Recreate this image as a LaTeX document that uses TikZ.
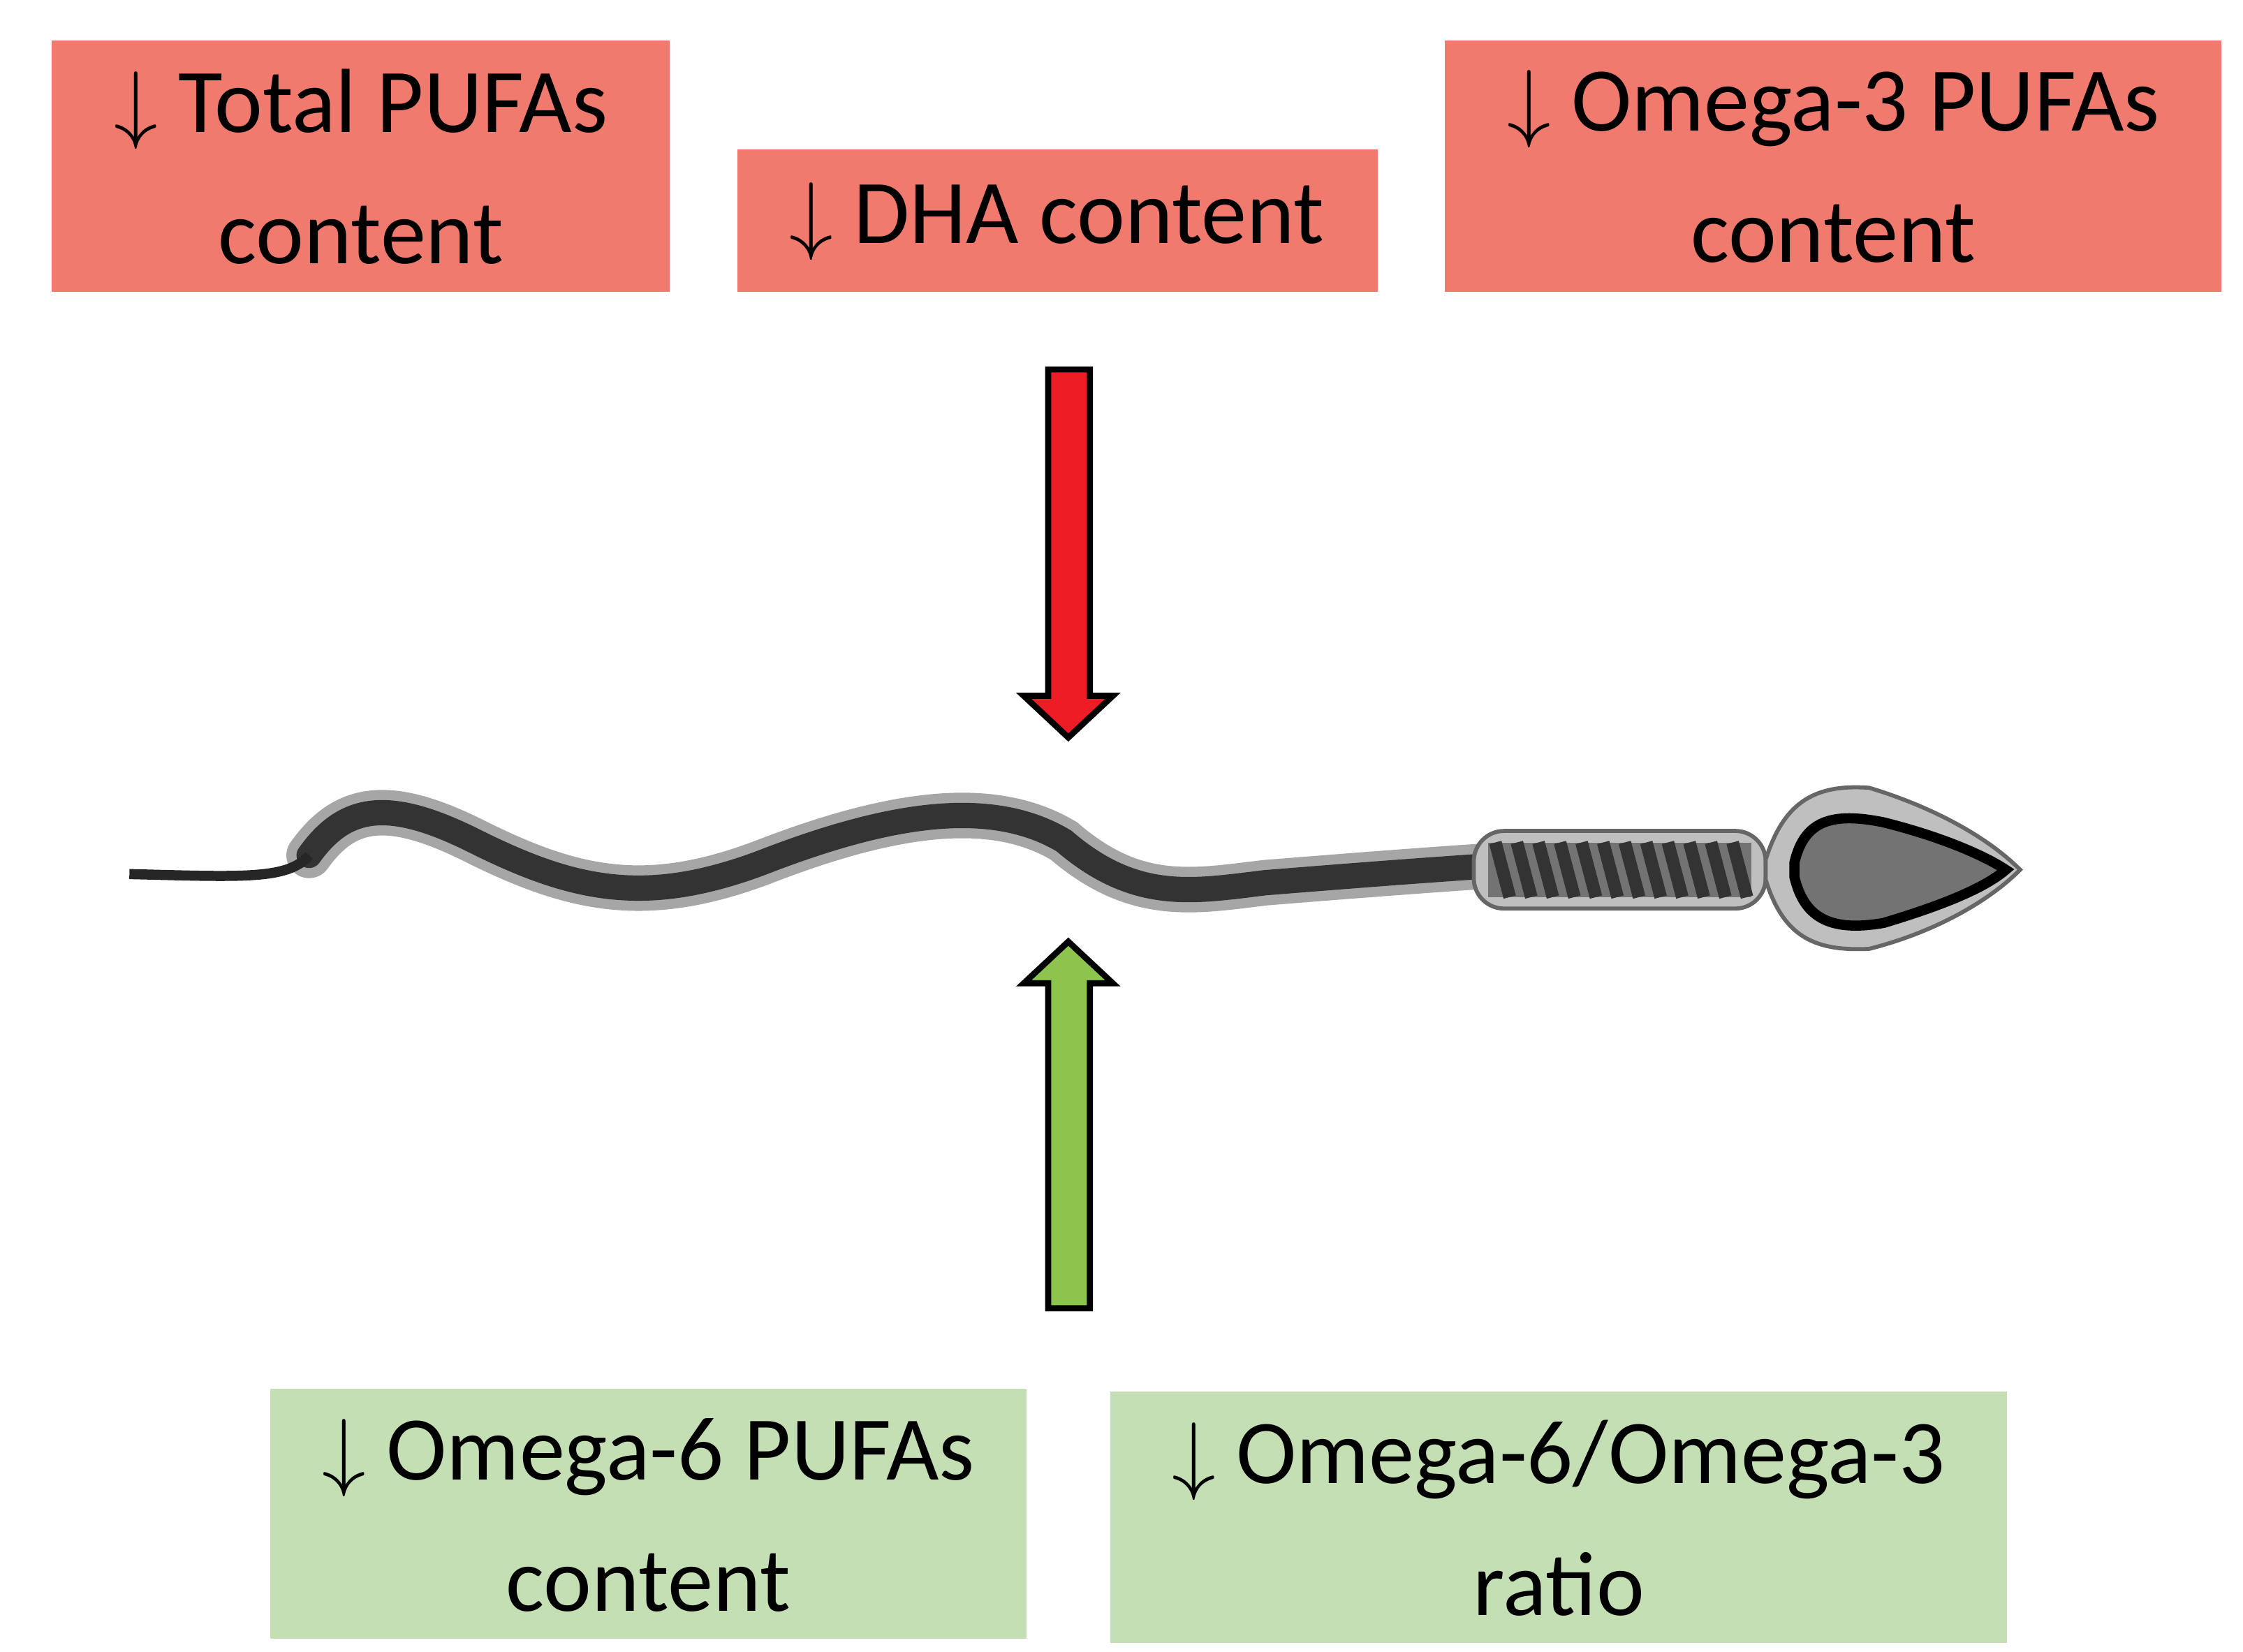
\documentclass[tikz,border=0pt]{standalone}
\usepackage{fontspec}
\setmainfont{Carlito}
\definecolor{boxred}{HTML}{F07A6E}
\definecolor{boxgreen}{HTML}{C5DFB4}
\definecolor{arrred}{HTML}{EE1C25}
\definecolor{arrgreen}{HTML}{8DC44E}
\begin{document}
\begin{tikzpicture}[x=0.01cm,y=-0.01cm,
    box/.style={inner sep=0pt,align=center,font=\fontsize{18}{26}\selectfont},
    bigarrow/.style={draw=black,line width=1.2pt,line join=miter}]
  \useasboundingbox (0,0) rectangle (1560,1149);

  % boxes
  \fill[boxred] (36,28) rectangle (466,203);
  \node[box] (total) at (251,116) {$\downarrow$ Total PUFAs\\content};
  \fill[boxred] (513,104) rectangle (958,203);
  \node[box] (dha) at (735,154) {$\downarrow$ DHA content};
  \fill[boxred] (1005,28) rectangle (1545,203);
  \node[box] (omegathree) at (1275,116) {$\downarrow$ Omega-3 PUFAs\\content};
  \fill[boxgreen] (188,966) rectangle (714,1140);
  \node[box] (omegasix) at (451,1054) {$\downarrow$ Omega-6 PUFAs\\content};
  \fill[boxgreen] (772,968) rectangle (1396,1143);
  \node[box] (ratio) at (1084,1056) {$\downarrow$ Omega-6/Omega-3\\ratio};

  % arrows
  \draw[bigarrow,fill=arrred] (729,257) -- (758,257) -- (758,484) -- (774,484)
    -- (743,513) -- (712,484) -- (729,484) -- cycle;
  \draw[bigarrow,fill=arrgreen] (729,910) -- (758,910) -- (758,684) -- (774,684)
    -- (743,655) -- (712,684) -- (729,684) -- cycle;

  % sperm tail
  \foreach \w/\c in {9pt/black!35,5pt/black!80}
    \draw[line width=\w,\c,line cap=round] (1040,602) .. controls (980,606) and (930,610) .. (880,614)
      .. controls (830,620) and (790,628) .. (740,585)
      .. controls (690,555) and (620,565) .. (530,600)
      .. controls (450,630) and (400,620) .. (330,585)
      .. controls (270,555) and (240,560) .. (215,595);
  \draw[line width=2pt,black!85] (215,595) .. controls (200,612) and (170,610) .. (90,608);

  % midpiece
  \draw[fill=black!25,draw=black!60,line width=0.8pt,rounded corners=6pt] (1025,578) rectangle (1228,632);
  \fill[black!55] (1035,586) rectangle (1218,624);
  \foreach \i in {0,...,11}
    \draw[black!80,line width=2.5pt] (1040+15*\i,586) -- (1050+15*\i,624);

  % head
  \draw[fill=black!25,draw=black!60,line width=0.8pt] (1228,598) .. controls (1240,560) and (1260,545) .. (1300,548)
    .. controls (1340,560) and (1380,580) .. (1405,605)
    .. controls (1380,630) and (1340,650) .. (1300,660)
    .. controls (1260,662) and (1240,650) .. (1228,612) -- cycle;
  \draw[fill=black!55,draw=black,line width=2pt] (1248,600) .. controls (1255,570) and (1275,565) .. (1310,572)
    .. controls (1350,582) and (1380,595) .. (1395,605)
    .. controls (1380,618) and (1350,630) .. (1310,642)
    .. controls (1275,648) and (1255,640) .. (1248,610) -- cycle;
\end{tikzpicture}
\end{document}
